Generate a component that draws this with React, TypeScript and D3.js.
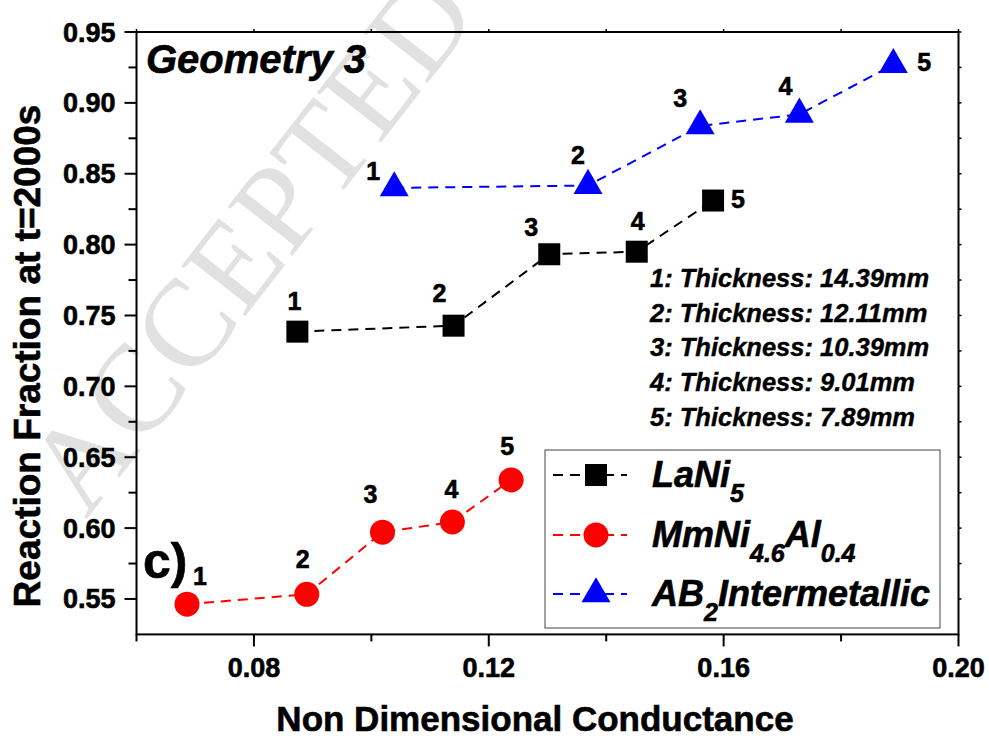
import React, { useEffect, useRef } from 'react';
import * as d3 from 'd3';

// values
const xLaNi5 = [0.0874, 0.114, 0.1303, 0.1452, 0.1582];
const yLaNi5 = [0.7386, 0.7428, 0.7932, 0.795, 0.8311];
const xMmNi = [0.0686, 0.089, 0.1019, 0.1138, 0.1238];
const yMmNi = [0.5463, 0.5533, 0.5971, 0.6043, 0.634];
const xAB2 = [0.1039, 0.1369, 0.156, 0.1729, 0.1889];
const yAB2 = [0.84, 0.8417, 0.8837, 0.8919, 0.9269];
const pointLabels = ['1', '2', '3', '4', '5'];

const xTicks = [0.08, 0.12, 0.16, 0.2];
const xMinorTicks = [0.06, 0.1, 0.14, 0.18];
const yTicks = [0.55, 0.6, 0.65, 0.7, 0.75, 0.8, 0.85, 0.9, 0.95];
const yMinorTicks = [0.575, 0.625, 0.675, 0.725, 0.775, 0.825, 0.875, 0.925];

const thicknessNotes = [
  '1: Thickness: 14.39mm',
  '2: Thickness: 12.11mm',
  '3: Thickness: 10.39mm',
  '4: Thickness: 9.01mm',
  '5: Thickness: 7.89mm',
];

// label offsets (dx, baseline dy) relative to each marker
const offLaNi5 = [[-3, -22], [-14, -24], [-18, -18], [1, -22], [25, 7]];
const offMmNi = [[13, -19], [-4, -26], [-12, -29], [-1, -24], [-4, -25]];
const offAB2 = [[-21, -8], [-10, -22], [-20, -19], [-14, -19], [31, 6]];

const FONT = "'Liberation Sans', Arial, sans-serif";
const HEAVY = 0.6; // extra stroke so the bold text reads as heavy as the original

export default function App() {
  const svgRef = useRef<SVGSVGElement>(null);

  useEffect(() => {
    if (!svgRef.current) return;
    const W = 989;
    const H = 738;
    const svg = d3.select(svgRef.current);
    svg.selectAll('*').remove();
    svg.attr('width', W).attr('height', H);

    const x = d3.scaleLinear().domain([0.06, 0.2]).range([136.5, 958.5]);
    const y = d3.scaleLinear().domain([0.525, 0.95]).range([634.4, 32]);
    const [x0, x1] = x.range();
    const [y0, y1] = y.range();

    // watermark
    svg.append('text')
      .attr('transform', 'translate(86,520) rotate(-52)')
      .attr('font-family', "'Liberation Serif', 'Times New Roman', serif")
      .attr('font-size', 124)
      .attr('fill', '#e1e1e1')
      .text('ACCEPTED');

    const boldText = (sel: d3.Selection<SVGTextElement, any, any, any>, size: number) =>
      sel.attr('font-family', FONT).attr('font-weight', 'bold').attr('font-size', size)
        .attr('stroke', '#000').attr('stroke-width', HEAVY);

    // axes
    const g = svg.append('g');
    g.append('rect')
      .attr('x', x0).attr('y', y1)
      .attr('width', x1 - x0).attr('height', y0 - y1)
      .attr('fill', 'none').attr('stroke', '#000').attr('stroke-width', 2);

    const bottom = g.append('g').attr('transform', `translate(0,${y0})`);
    bottom.selectAll('line.maj').data(xTicks).enter().append('line')
      .attr('x1', d => x(d)).attr('x2', d => x(d)).attr('y1', 0).attr('y2', 12)
      .attr('stroke', '#000').attr('stroke-width', 2);
    bottom.selectAll('line.min').data(xMinorTicks).enter().append('line')
      .attr('x1', d => x(d)).attr('x2', d => x(d)).attr('y1', 0).attr('y2', 7)
      .attr('stroke', '#000').attr('stroke-width', 2);
    boldText(bottom.selectAll('text').data(xTicks).enter().append('text'), 27)
      .attr('x', d => x(d)).attr('y', 42.5)
      .attr('text-anchor', 'middle')
      .text(d => d3.format('.2f')(d));

    const left = g.append('g').attr('transform', `translate(${x0},0)`);
    left.selectAll('line.maj').data(yTicks).enter().append('line')
      .attr('y1', d => y(d)).attr('y2', d => y(d)).attr('x1', 0).attr('x2', -12)
      .attr('stroke', '#000').attr('stroke-width', 2);
    left.selectAll('line.min').data(yMinorTicks).enter().append('line')
      .attr('y1', d => y(d)).attr('y2', d => y(d)).attr('x1', 0).attr('x2', -8)
      .attr('stroke', '#000').attr('stroke-width', 2);
    boldText(left.selectAll('text').data(yTicks).enter().append('text'), 27)
      .attr('x', -21).attr('y', d => y(d) + 9.5)
      .attr('text-anchor', 'end')
      .text(d => d3.format('.2f')(d));

    // small ticks on top and right
    g.selectAll('line.top').data([...xTicks, ...xMinorTicks]).enter().append('line')
      .attr('x1', d => x(d)).attr('x2', d => x(d)).attr('y1', y1).attr('y2', y1 - 3)
      .attr('stroke', '#000').attr('stroke-width', 1.5);
    g.selectAll('line.right').data([...yTicks, ...yMinorTicks]).enter().append('line')
      .attr('y1', d => y(d)).attr('y2', d => y(d)).attr('x1', x1).attr('x2', x1 + 3)
      .attr('stroke', '#000').attr('stroke-width', 1.5);

    // axis titles
    boldText(svg.append('text'), 35)
      .attr('x', 535).attr('y', 731)
      .attr('text-anchor', 'middle')
      .text('Non Dimensional Conductance');
    boldText(svg.append('text'), 37)
      .attr('transform', 'translate(40,356) rotate(-90)')
      .attr('text-anchor', 'middle')
      .text('Reaction Fraction at t=2000s');

    // series
    const series = [
      { xs: xLaNi5, ys: yLaNi5, color: '#000', type: d3.symbolSquare, size: 484, off: offLaNi5 },
      { xs: xMmNi, ys: yMmNi, color: '#ff0000', type: d3.symbolCircle, size: 491, off: offMmNi },
      { xs: xAB2, ys: yAB2, color: '#0000ff', type: d3.symbolTriangle, size: 364, off: offAB2 },
    ];
    const line = d3.line<[number, number]>().x(d => x(d[0])).y(d => y(d[1]));

    series.forEach(s => {
      const pts = s.xs.map((v, i) => [v, s.ys[i]] as [number, number]);
      svg.append('path')
        .attr('d', line(pts) || '')
        .attr('fill', 'none')
        .attr('stroke', s.color)
        .attr('stroke-width', 2)
        .attr('stroke-dasharray', '10,7');
      svg.selectAll(null).data(pts).enter().append('path')
        .attr('transform', d => `translate(${x(d[0])},${y(d[1])})`)
        .attr('d', d3.symbol().type(s.type).size(s.size)() || '')
        .attr('fill', s.color);
      boldText(svg.selectAll(null).data(pts).enter().append('text'), 25)
        .attr('x', (d, i) => x(d[0]) + s.off[i][0])
        .attr('y', (d, i) => y(d[1]) + s.off[i][1])
        .attr('text-anchor', 'middle')
        .text((_d, i) => pointLabels[i]);
    });

    // annotations
    boldText(svg.append('text'), 40)
      .attr('x', 146).attr('y', 73)
      .attr('font-style', 'italic')
      .text('Geometry 3');
    boldText(svg.append('text'), 50)
      .attr('x', 143).attr('y', 578)
      .text('c)');

    boldText(svg.selectAll(null).data(thicknessNotes).enter().append('text'), 25.5)
      .attr('x', 650).attr('y', (_d, i) => 286.7 + i * 34.8)
      .attr('font-style', 'italic')
      .attr('stroke-width', 0.4)
      .text(d => d);

    // legend
    const lg = svg.append('g');
    lg.append('rect')
      .attr('x', 545).attr('y', 450).attr('width', 395).attr('height', 178)
      .attr('fill', '#fff').attr('stroke', '#444').attr('stroke-width', 1);
    const rowY = [475, 535, 594];
    series.forEach((s, i) => {
      lg.append('line')
        .attr('x1', 553).attr('x2', 627).attr('y1', rowY[i]).attr('y2', rowY[i])
        .attr('stroke', s.color).attr('stroke-width', 2)
        .attr('stroke-dasharray', '10,7');
      lg.append('path')
        .attr('transform', `translate(596,${rowY[i]})`)
        .attr('d', d3.symbol().type(s.type).size(s.size)() || '')
        .attr('fill', s.color);
    });
    const legendText = (row: number, parts: [string, boolean][]) => {
      const t = boldText(lg.append('text'), 36)
        .attr('x', 652).attr('y', rowY[row] + 12)
        .attr('font-style', 'italic');
      let prevSub = false;
      parts.forEach(([str, sub]) => {
        const dy = sub === prevSub ? 0 : sub ? 15 : -15;
        t.append('tspan')
          .attr('dy', dy)
          .attr('font-size', sub ? 25 : 36)
          .text(str);
        prevSub = sub;
      });
    };
    legendText(0, [['LaNi', false], ['5', true]]);
    legendText(1, [['MmNi', false], ['4.6', true], ['Al', false], ['0.4', true]]);
    legendText(2, [['AB', false], ['2', true], ['Intermetallic', false]]);
  }, []);

  return (
    <svg
      ref={svgRef}
      style={{ position: 'absolute', left: 0, top: 0, display: 'block', background: '#fff' }}
    />
  );
}
